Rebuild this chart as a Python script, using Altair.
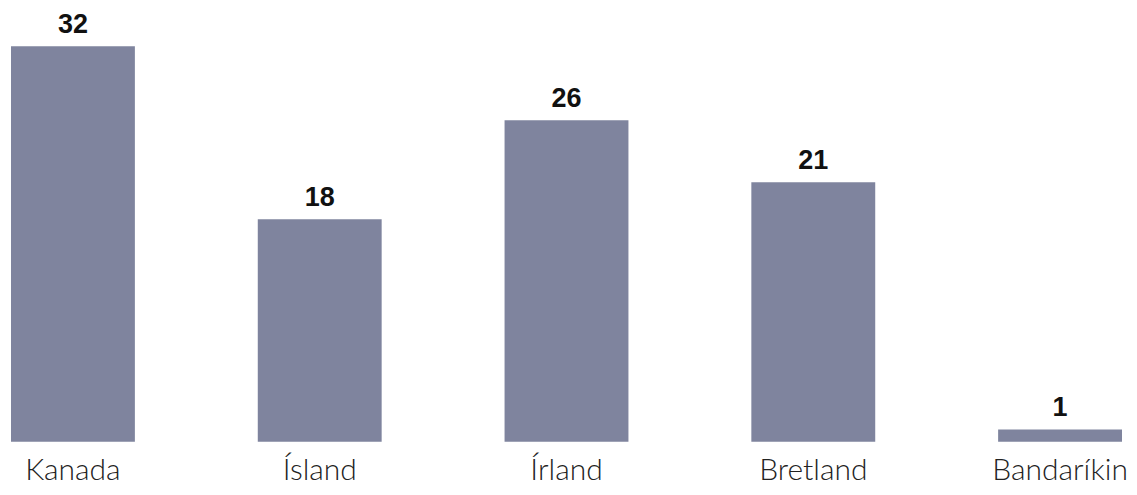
import altair as alt
import pandas as pd

countries = ["Kanada", "Ísland", "Írland", "Bretland", "Bandaríkin"]
values = [32, 18, 26, 21, 1]

df = pd.DataFrame({"land": countries, "fjoldi": values})

x = alt.X("land:N", sort=countries,
          scale=alt.Scale(paddingInner=0.498, paddingOuter=0),
          axis=alt.Axis(title=None, labelAngle=0, domain=False, ticks=False, grid=False,
                        labelFont="Lato", labelFontSize=30, labelFontWeight=300,
                        labelColor="#222222", labelPadding=14))
y = alt.Y("fjoldi:Q", scale=alt.Scale(domain=[0, 32], nice=False),
          axis=None)

bars = alt.Chart(df).mark_bar(color="#7f849e").encode(x=x, y=y)
labels = alt.Chart(df).mark_text(
    dy=-13, baseline="alphabetic", font="Liberation Sans", fontSize=27,
    fontWeight="bold", color="#111111"
).encode(x=x, y=y, text="fjoldi:Q")

chart = (bars + labels).properties(
    width=1112, height=396,
    autosize=alt.AutoSizeParams(type="none"),
    padding={"left": 3, "top": 38, "right": 7, "bottom": 45},
).configure(background="white").configure_view(stroke=None, strokeWidth=0)

chart.save("out.html", embed_options={"renderer": "svg", "actions": False})
